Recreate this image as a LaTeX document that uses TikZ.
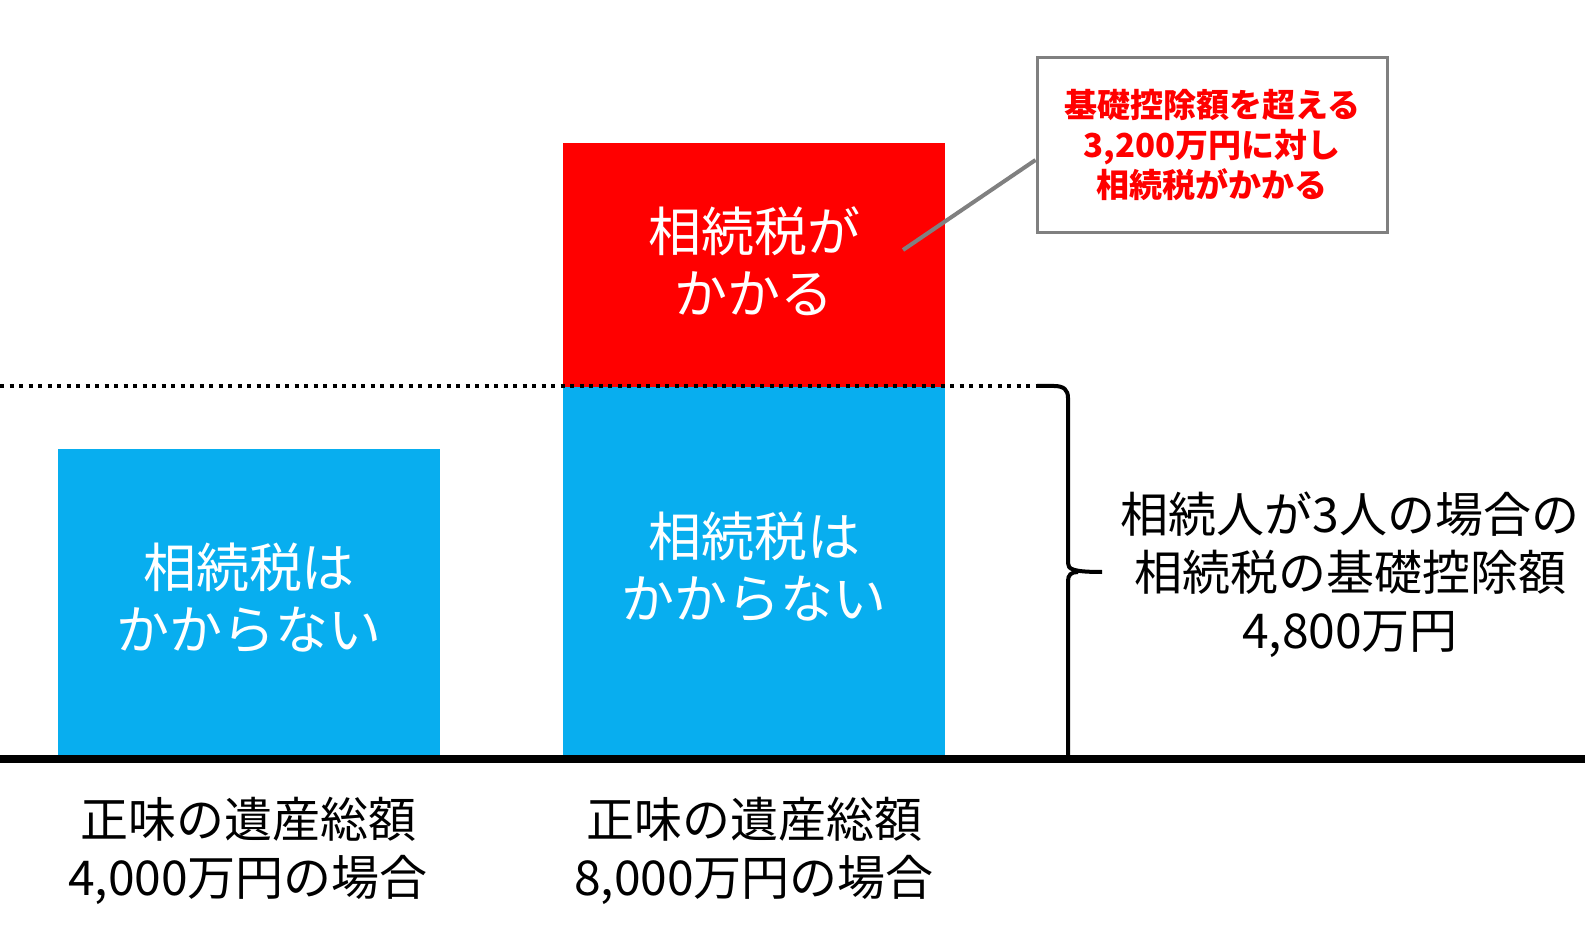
\documentclass[tikz,border=0pt]{standalone}
\usepackage{fontspec}
\setmainfont{Noto Sans CJK JP}
\usepackage{tikz}
\usetikzlibrary{positioning}
\definecolor{skyblue}{RGB}{8,174,239}
\definecolor{notegray}{RGB}{128,128,128}
\tikzset{
bar/.style={inner sep=0pt},
freebar/.style={bar, fill=skyblue},
taxbar/.style={bar, fill=red},
bartext/.style={align=center, text=white, font=\fontsize{26.5}{31}\selectfont},
caption/.style={align=center, font=\fontsize{24}{29}\selectfont},
note/.style={draw=notegray, line width=1.5pt, fill=white, align=center, text=red,
  font=\fontsize{16.5}{20}\selectfont\bfseries, minimum width=175pt, minimum height=87.5pt}
}

\begin{document}
\begin{tikzpicture}[x=0.5pt,y=-0.5pt]
\useasboundingbox (0,0) rectangle (1585,930);

% bars
\node[freebar, minimum width=191pt, minimum height=153pt] (small) at (249,602) {};
\node[freebar, minimum width=191pt, minimum height=184pt] (base) at (754,571) {};
\node[taxbar, minimum width=191pt, minimum height=122pt] (excess) at (754,265) {};
\node[bartext] (smallt) at ([yshift=2pt]small.center) {相続税は\\かからない};
\node[bartext] (baset) at ([yshift=2pt]base.center) {相続税は\\かからない};
\node[bartext] (excesst) at ([yshift=2pt]excess.center) {相続税が\\かかる};

% deduction level and ground
\coordinate (lvl) at (0,386);
\coordinate (lvlend) at (1037,386);
\draw[line width=2pt, dash pattern=on 2pt off 2.75pt] (lvl) -- (lvlend);
\coordinate (g0) at (0,759);
\coordinate (g1) at (1585,759);
\draw[line width=4pt] (g0) -- (g1);

% brace
\draw[line width=2pt] (lvlend) -- (1054,386) .. controls (1064,386) and (1068,390) .. (1068,398)
  -- (1068,563) .. controls (1068,569) and (1072,572) .. (1102,572);
\draw[line width=2pt] (1068,759) -- (1068,581) .. controls (1068,575) and (1071,572) .. (1078,572);

% captions
\node[caption] (sum) at (1350,575) {相続人が3人の場合の\\相続税の基礎控除額\\4,800万円};
\node[caption] (caseA) at (248,851) {正味の遺産総額\\4,000万円の場合};
\node[caption] (caseB) at (754,851) {正味の遺産総額\\8,000万円の場合};

% callout
\node[note] (call) at (1212,145) {基礎控除額を超える\\3,200万円に対し\\相続税がかかる};
\coordinate (tip) at (903,250);
\draw[notegray, line width=2pt] (tip) -- ([yshift=-7.5pt]call.west);
\end{tikzpicture}
\end{document}
